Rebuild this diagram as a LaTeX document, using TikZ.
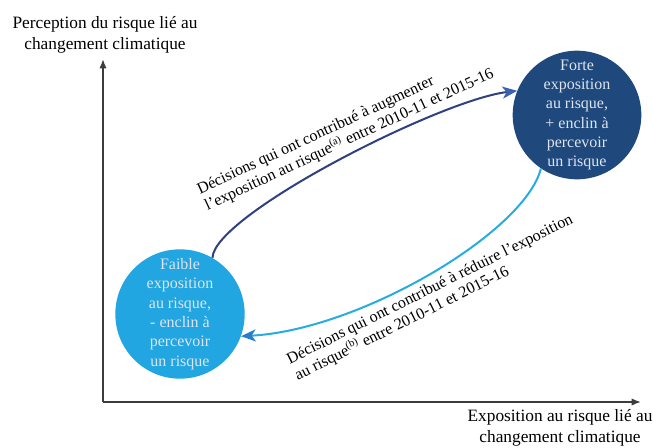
\documentclass[tikz,border=0pt]{standalone}
\usepackage{fontspec}
\setmainfont{Liberation Serif}
\usetikzlibrary{arrows.meta}
\definecolor{navyfill}{RGB}{31,73,125}
\definecolor{skyfill}{RGB}{33,166,225}
\definecolor{navyline}{RGB}{46,64,128}
\definecolor{navytip}{RGB}{58,98,178}
\definecolor{skyline}{RGB}{38,172,225}
\definecolor{skytip}{RGB}{40,125,205}
\definecolor{circletext}{RGB}{222,228,238}
\definecolor{axisgray}{RGB}{60,60,60}
\tikzset{
  etat/.style={circle, inner sep=0pt, text=circletext, align=center, font=\fontsize{12}{14.5}\selectfont},
  axe/.style={draw=axisgray, line width=1.3pt, -{Latex[length=7pt,width=5.5pt]}},
  fleche/.style={line width=1.5pt},
  legende/.style={inner sep=0pt, align=left, font=\fontsize{12}{13.5}\selectfont},
  titre/.style={inner sep=0pt, align=center, font=\fontsize{13}{16}\selectfont}
}
\begin{document}
\begin{tikzpicture}[x=0.75pt,y=-0.75pt]
	\useasboundingbox (0,0) rectangle (653,447);
	\coordinate (origine) at (103,402);
	\coordinate (ymax) at (103,59);
	\coordinate (xmax) at (641,402);
	\draw[axe] (origine) -- (ymax);
	\draw[axe] (origine) -- (xmax);
	\node[titre] (ylabel) at (105,35) {Perception du risque lié au\\changement climatique};
	\node[titre] (xlabel) at (560,428) {Exposition au risque lié au\\changement climatique};
	\node[etat, fill=skyfill, minimum size=97pt] (faible) at (180,314) {Faible\\exposition\\au risque,\\- enclin à\\percevoir\\un risque};
	\node[etat, fill=navyfill, minimum size=93pt] (forte) at (577,115) {Forte\\exposition\\au risque,\\+ enclin à\\percevoir\\un risque};
	\draw[fleche, draw=navyline, -{Stealth[length=11pt,width=9pt,inset=3pt,color=navytip]}] (faible.60) .. controls (214,215) and (440,100) .. (forte.158);
	\draw[fleche, draw=skyline, -{Stealth[length=11pt,width=9pt,inset=3pt,color=skytip]}] (forte.236) .. controls (525,232) and (360,330) .. (faible.340);
	\node[legende, rotate=25, anchor=west] (haut) at (202,199) {Décisions qui ont contribué à augmenter\\l’exposition au risque\textsuperscript{(a)} entre 2010-11 et 2015-16};
	\node[legende, rotate=26.5, anchor=west] (bas) at (292,369) {Décisions qui ont contribué à réduire l’exposition\\au risque\textsuperscript{(b)} entre 2010-11 et 2015-16};
\end{tikzpicture}
\end{document}
